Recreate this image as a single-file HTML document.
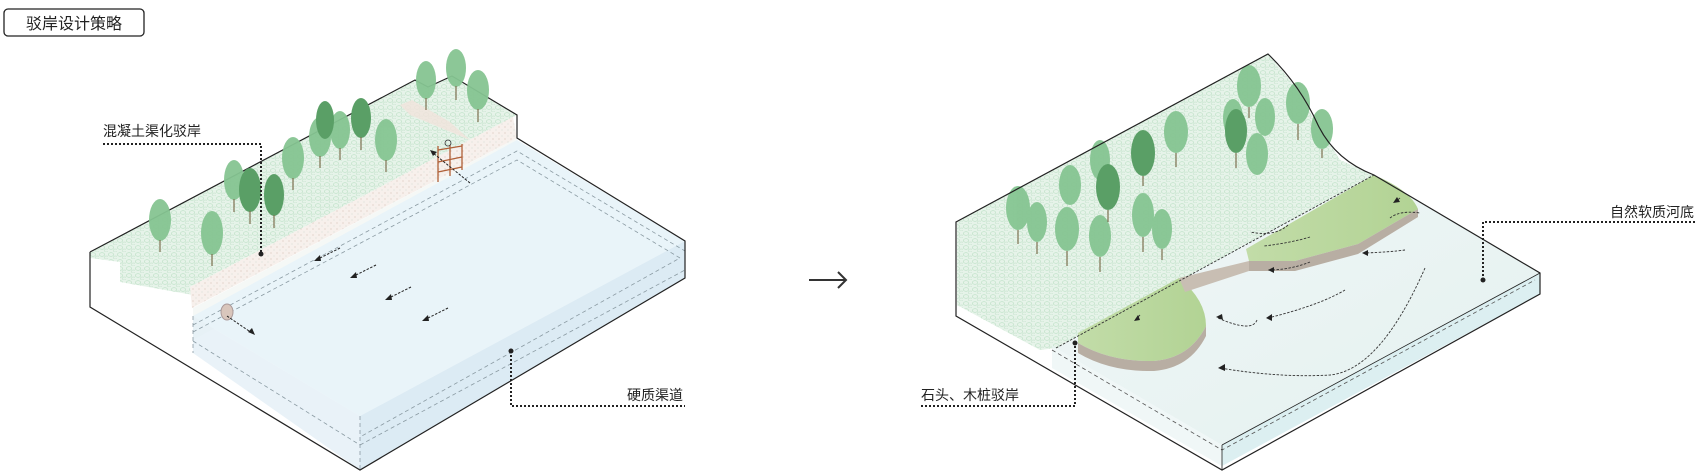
<!DOCTYPE html>
<html><head><meta charset="utf-8"><style>
html,body{margin:0;padding:0;background:#fff;}
svg{display:block;}
text{font-family:"Liberation Sans","Noto Sans CJK SC",sans-serif;fill:#222;}
</style></head><body>
<svg width="1700" height="475" viewBox="0 0 1700 475" xmlns="http://www.w3.org/2000/svg">
<defs>
<pattern id="pg" width="9" height="7" patternUnits="userSpaceOnUse">
<rect width="9" height="7" fill="#e6f3e9"/>
<ellipse cx="3" cy="2.5" rx="2.6" ry="1.8" fill="none" stroke="#bde0c6" stroke-width="0.7"/>
<ellipse cx="7.5" cy="5.5" rx="2.2" ry="1.5" fill="none" stroke="#c9e5d0" stroke-width="0.7"/>
</pattern>
<pattern id="pc" width="6" height="6" patternUnits="userSpaceOnUse">
<rect width="6" height="6" fill="#f7f0ec"/>
<circle cx="1" cy="1" r="0.6" fill="#d8c3b8"/><circle cx="4" cy="4" r="0.5" fill="#c9d6cf"/>
</pattern>
<linearGradient id="gw" x1="0" y1="0" x2="1" y2="1"><stop offset="0" stop-color="#f0f6f7"/><stop offset="1" stop-color="#e4f1ef"/></linearGradient>
<linearGradient id="gl" x1="0" y1="0" x2="1" y2="0"><stop offset="0" stop-color="#c2dca8"/><stop offset="1" stop-color="#b2d394"/></linearGradient>
</defs>

<rect x="4" y="9" width="140" height="27" rx="4" fill="#fff" stroke="#222" stroke-width="1.3"/>
<text x="74" y="29" font-size="16" text-anchor="middle">驳岸设计策略</text>

<!-- LEFT BLOCK -->
<polygon points="90,252 415,80 428,87 452,76 517,115 517,138 685,241 685,278 360,470 90,307" fill="#fff"/>
<polygon points="90,252 415,80 428,87 452,76 517,115 190,287 193,295 120,282 120,262 90,258" fill="url(#pg)"/>
<polygon points="190,287 513,117 517,138 192,308" fill="url(#pc)"/>
<polygon points="400,105 410,115 470,140 450,122 412,100" fill="#f1e4dc" opacity="0.8"/>
<polygon points="193,308 517,138 517,165 193,340" fill="#f5f8f6"/>
<polygon points="193,316 517,140 685,241 360,416" fill="#e9f4f9"/>
<polygon points="193,316 360,416 360,470 193,353" fill="#e3eff6" opacity="0.8"/>
<polygon points="360,416 685,241 685,278 360,470" fill="#dcebf4"/>
<g fill="none" stroke="#8a9aa2" stroke-width="0.8" stroke-dasharray="4,3">
<polyline points="193,325 517,151 685,251"/>
<polyline points="193,332 517,160 680,258 360,437"/>
<line x1="193" y1="341" x2="360" y2="445"/>
<line x1="360" y1="445" x2="685" y2="270"/>
<line x1="193" y1="316" x2="193" y2="353"/>
<line x1="360" y1="416" x2="360" y2="470"/>
</g>
<g fill="none" stroke="#222" stroke-width="1.2">
<polyline points="90,252 415,80 428,87 452,76 517,115 517,138 685,241 685,278 360,470 90,307 90,252"/>
</g>
<g>
<g fill="#86c592" opacity="0.95">
<ellipse cx="160" cy="220" rx="11" ry="21"/><ellipse cx="212" cy="233" rx="11" ry="22"/>
<ellipse cx="234" cy="180" rx="10" ry="20"/><ellipse cx="293" cy="158" rx="11" ry="21"/>
<ellipse cx="320" cy="137" rx="11" ry="20"/><ellipse cx="386" cy="140" rx="11" ry="21"/>
<ellipse cx="426" cy="80" rx="10" ry="19"/><ellipse cx="456" cy="68" rx="10" ry="19"/><ellipse cx="478" cy="90" rx="11" ry="20"/>
<ellipse cx="340" cy="130" rx="10" ry="19"/>
</g>
<g fill="#5a9f66"><ellipse cx="250" cy="190" rx="11" ry="22"/><ellipse cx="274" cy="195" rx="10" ry="21"/><ellipse cx="361" cy="118" rx="10" ry="20"/><ellipse cx="325" cy="120" rx="9" ry="19"/></g>
<g stroke="#7d7050" stroke-width="1.2">
<line x1="160" y1="240" x2="160" y2="252"/><line x1="212" y1="254" x2="212" y2="266"/><line x1="234" y1="199" x2="234" y2="212"/>
<line x1="250" y1="211" x2="250" y2="224"/><line x1="274" y1="215" x2="274" y2="228"/><line x1="293" y1="178" x2="293" y2="190"/>
<line x1="320" y1="156" x2="320" y2="168"/><line x1="340" y1="148" x2="340" y2="160"/><line x1="361" y1="137" x2="361" y2="150"/>
<line x1="386" y1="160" x2="386" y2="172"/><line x1="426" y1="98" x2="426" y2="110"/><line x1="456" y1="86" x2="456" y2="100"/><line x1="478" y1="109" x2="478" y2="122"/>
</g>
</g>
<g stroke="#b06038" stroke-width="1.3" fill="none">
<line x1="438" y1="146" x2="438" y2="182"/><line x1="462" y1="144" x2="462" y2="170"/><line x1="450" y1="145" x2="450" y2="176"/>
<line x1="438" y1="150" x2="462" y2="146"/><line x1="438" y1="162" x2="462" y2="157"/><line x1="438" y1="172" x2="462" y2="167"/>
</g>
<circle cx="448" cy="143" r="3" fill="none" stroke="#333" stroke-width="0.8"/>
<ellipse cx="227" cy="312" rx="6" ry="8" fill="#d9c6bc" stroke="#a99"/>
<g stroke="#222" stroke-width="1" stroke-dasharray="2.5,1.5" fill="none">
<line x1="340" y1="248" x2="316" y2="260"/><line x1="376" y1="265" x2="352" y2="277"/>
<line x1="411" y1="287" x2="387" y2="299"/><line x1="448" y1="308" x2="424" y2="320"/>
<line x1="227" y1="316" x2="252" y2="333"/><line x1="470" y1="183" x2="433" y2="153"/>
</g>
<g fill="#222">
<polygon points="314,261 320,255 321,261"/><polygon points="350,278 356,272 357,278"/>
<polygon points="385,300 391,294 392,300"/><polygon points="422,321 428,315 429,321"/>
<polygon points="255,335 248,332 252,328"/><polygon points="430,150 437,152 433,156"/>
</g>
<text x="103" y="136" font-size="14">混凝土渠化驳岸</text>
<polyline points="103,144 261,144 261,254" fill="none" stroke="#222" stroke-width="2" stroke-dasharray="2,2"/>
<circle cx="261" cy="254" r="2.5" fill="#222"/>
<text x="627" y="400" font-size="14">硬质渠道</text>
<polyline points="511,351 511,406 685,406" fill="none" stroke="#222" stroke-width="2" stroke-dasharray="2,2"/>
<circle cx="511" cy="351" r="2.5" fill="#222"/>

<line x1="809" y1="280" x2="846" y2="280" stroke="#333" stroke-width="2"/>
<polyline points="838,272 846,280 838,288" fill="none" stroke="#333" stroke-width="2"/>

<!-- RIGHT BLOCK -->
<polygon points="956,222 1268,54 1290,80 1318,125 1340,160 1374,175 1540,273 1540,294 1222,470 956,316" fill="#fff"/>
<polygon points="957,222 1268,54 1290,80 1318,125 1340,160 1374,175 1056,348 1040,350 957,305" fill="url(#pg)"/>
<polygon points="1056,348 1374,175 1540,273 1222,445" fill="url(#gw)"/>
<polygon points="1222,445 1540,273 1540,294 1222,466" fill="#dceff1"/>
<polygon points="1052,345 1222,445 1222,466 1052,368" fill="#eaf4f4" opacity="0.7"/>
<path d="M1078,333 L1179,278 Q1206,300 1206,326 Q1190,358 1154,361 Q1110,362 1078,343 Z" fill="url(#gl)"/>
<path d="M1078,343 Q1110,362 1154,361 Q1190,358 1206,326 L1206,336 Q1190,368 1154,371 Q1110,372 1078,353 Z" fill="#b8aea3"/>
<path d="M1246,249 L1374,175 Q1410,190 1418,209 L1358,244 L1295,261 L1249,261 Z" fill="url(#gl)"/>
<path d="M1249,261 L1295,261 L1358,244 L1418,209 L1418,217 L1358,254 L1295,271 L1249,271 Z" fill="#b8aea3"/>
<path d="M1179,278 L1249,261 L1249,271 L1185,292 Z" fill="#c8beb3"/>
<g fill="#86c592" opacity="0.95">
<ellipse cx="1018" cy="208" rx="12" ry="22"/><ellipse cx="1037" cy="222" rx="10" ry="20"/>
<ellipse cx="1070" cy="185" rx="11" ry="20"/><ellipse cx="1067" cy="229" rx="12" ry="22"/>
<ellipse cx="1100" cy="236" rx="11" ry="21"/><ellipse cx="1100" cy="160" rx="10" ry="20"/>
<ellipse cx="1143" cy="215" rx="11" ry="22"/><ellipse cx="1162" cy="229" rx="10" ry="20"/>
<ellipse cx="1176" cy="132" rx="12" ry="21"/><ellipse cx="1249" cy="86" rx="12" ry="21"/>
<ellipse cx="1265" cy="117" rx="10" ry="19"/><ellipse cx="1257" cy="154" rx="11" ry="21"/>
<ellipse cx="1298" cy="103" rx="12" ry="21"/><ellipse cx="1322" cy="129" rx="11" ry="20"/>
<ellipse cx="1233" cy="118" rx="10" ry="19"/>
</g>
<g fill="#5a9f66"><ellipse cx="1108" cy="187" rx="12" ry="23"/><ellipse cx="1143" cy="153" rx="12" ry="23"/><ellipse cx="1236" cy="131" rx="11" ry="22"/></g>
<g stroke="#7d7050" stroke-width="1.2">
<line x1="1018" y1="230" x2="1018" y2="244"/><line x1="1037" y1="242" x2="1037" y2="254"/><line x1="1067" y1="251" x2="1067" y2="266"/>
<line x1="1100" y1="257" x2="1100" y2="272"/><line x1="1108" y1="210" x2="1108" y2="222"/><line x1="1143" y1="176" x2="1143" y2="186"/>
<line x1="1143" y1="237" x2="1143" y2="252"/><line x1="1162" y1="249" x2="1162" y2="260"/><line x1="1176" y1="153" x2="1176" y2="167"/>
<line x1="1236" y1="153" x2="1236" y2="168"/><line x1="1249" y1="107" x2="1249" y2="118"/><line x1="1298" y1="124" x2="1298" y2="140"/>
<line x1="1322" y1="149" x2="1322" y2="158"/>
</g>
<g fill="none" stroke="#333" stroke-width="0.9" stroke-dasharray="2.5,1.5">
<line x1="1056" y1="348" x2="1374" y2="175"/>
<path d="M1425,268 Q1380,370 1330,375 Q1280,378 1220,368"/>
<path d="M1345,290 Q1320,305 1268,318"/>
<path d="M1310,262 Q1290,270 1268,270"/>
<path d="M1257,320 Q1252,333 1218,318"/>
<path d="M1390,218 Q1400,210 1420,213"/>
<path d="M1310,237 Q1290,243 1264,246"/>
<path d="M1405,250 Q1390,252 1365,253"/>
<path d="M1288,225 Q1275,237 1250,232"/>
<path d="M1140,315 L1135,320"/><path d="M1400,198 L1395,202"/>
</g>
<g fill="#222">
<polygon points="1218,368 1225,364 1225,371"/><polygon points="1266,318 1272,314 1272,321"/>
<polygon points="1268,270 1274,267 1274,273"/><polygon points="1216,317 1222,314 1223,320"/>
<polygon points="1362,253 1368,250 1368,256"/><polygon points="1134,321 1138,315 1140,320"/>
<polygon points="1393,203 1397,197 1400,202"/>
</g>
<g fill="none" stroke="#555" stroke-width="0.8" stroke-dasharray="4,3">
<polyline points="1052,350 1222,450 1535,280"/>
</g>
<g fill="none" stroke="#222" stroke-width="1.2">
<path d="M956,222 L1268,54 Q1300,85 1318,125 Q1335,160 1374,175 L1540,273 L1540,294 L1222,470 L956,316 Z"/>
<line x1="1222" y1="445" x2="1540" y2="273" stroke-width="0.8"/>
<line x1="1222" y1="445" x2="1222" y2="470" stroke-width="0.8"/>
</g>
<text x="1610" y="217" font-size="14">自然软质河底</text>
<polyline points="1483,280 1483,222 1697,222" fill="none" stroke="#222" stroke-width="2" stroke-dasharray="2,2"/>
<circle cx="1483" cy="280" r="2.5" fill="#222"/>
<text x="921" y="400" font-size="14">石头、木桩驳岸</text>
<polyline points="921,406 1075,406 1075,343" fill="none" stroke="#222" stroke-width="2" stroke-dasharray="2,2"/>
<circle cx="1075" cy="343" r="2.5" fill="#222"/>
</svg>
</body></html>
